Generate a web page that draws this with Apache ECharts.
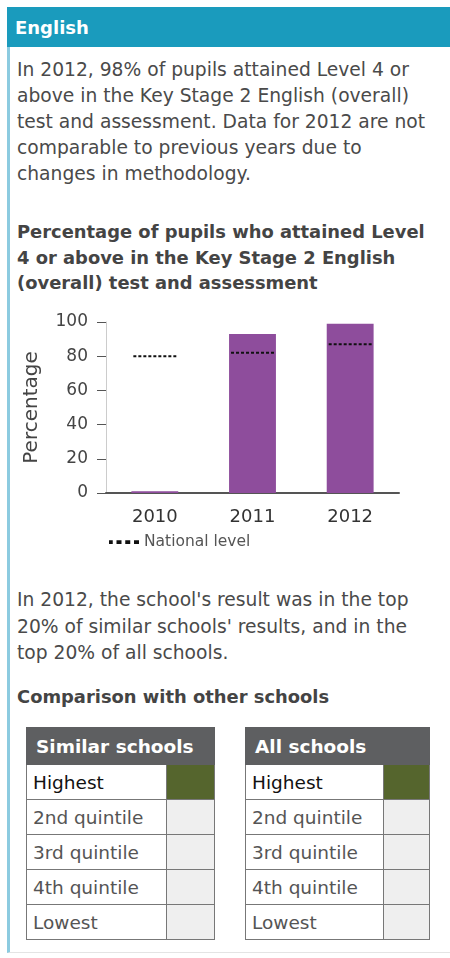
<!DOCTYPE html>
<html>
<head>
<meta charset="utf-8">
<script src="https://cdn.jsdelivr.net/npm/echarts@6/dist/echarts.min.js"></script>
<style>
  html, body { margin: 0; padding: 0; background: #fff; }
  body { width: 450px; height: 958px; position: relative; overflow: hidden;
         font-family: "DejaVu Sans", sans-serif; color: #444; }
  .frame { position: absolute; left: 7px; top: 7px; width: 443px; height: 946px;
           border-left: 3px solid #8ccbe0; border-bottom: 1px solid #e4e4e4; box-sizing: border-box; }
  .head { position: absolute; left: 7px; top: 7px; width: 443px; height: 40px; background: #1a9bbd;
          color: #fff; font-weight: bold; font-size: 18px; line-height: 41px;
          padding-left: 8px; box-sizing: border-box; }
  .txt { position: absolute; left: 17px; font-size: 18.7px; color: #4a4a4a; white-space: nowrap; }
  .bold { font-weight: bold; font-size: 17.9px; color: #444; }
  #chart { position: absolute; left: 0; top: 300px; width: 450px; height: 250px; }
  table.cmp { position: absolute; top: 727px; border-collapse: collapse; font-size: 18.5px; }
  table.cmp th { background: #5e5f61; color: #fff; text-align: left; font-weight: bold;
                 height: 36px; padding: 0 0 0 9px; border: 1.5px solid #5e5f61; white-space: nowrap; }
  table.cmp td { height: 34px; border: 1.5px solid #777; padding: 0 0 0 6px; color: #555; white-space: nowrap; }
  table.cmp td.c { background: #efefef; padding: 0; }
  table.cmp td.on { background: #55652d; }
  table.cmp tr.first td.l { color: #111; }
</style>
</head>
<body>
<div class="frame"></div>
<div class="head">English</div>
<div class="txt" style="top:57px; line-height:26px;">In 2012, 98% of pupils attained Level 4 or<br>above in the Key Stage 2 English (overall)<br>test and assessment. Data for 2012 are not<br>comparable to previous years due to<br>changes in methodology.</div>
<div class="txt bold" style="top:219px; line-height:25.5px;">Percentage of pupils who attained Level<br>4 or above in the Key Stage 2 English<br>(overall) test and assessment</div>
<div id="chart"></div>
<div class="txt" style="top:587px; line-height:26.5px;">In 2012, the school's result was in the top<br>20% of similar schools' results, and in the<br>top 20% of all schools.</div>
<div class="txt bold" style="top:684px; line-height:26px;">Comparison with other schools</div>
<div id="tables"></div>
<script>
var years = ['2010', '2011', '2012'];
var schoolPct = [1, 93, 99];
var nationalPct = [80, 82, 87];
var quintiles = ['Highest', '2nd quintile', '3rd quintile', '4th quintile', 'Lowest'];
var similarBand = 0; // index of highlighted quintile
var allBand = 0;

function buildTable(title, band, left, w1, w2) {
  var h = '<table class="cmp" style="left:' + left + 'px;width:' + (w1 + w2) + 'px">';
  h += '<tr><th colspan="2">' + title + '</th></tr>';
  quintiles.forEach(function (q, i) {
    h += '<tr' + (i === 0 ? ' class="first"' : '') + '><td class="l" style="width:' + (w1 - 6) + 'px">' + q +
         '</td><td class="c' + (i === band ? ' on' : '') + '" style="width:' + w2 + 'px"></td></tr>';
  });
  return h + '</table>';
}
document.getElementById('tables').innerHTML =
  buildTable('Similar schools', similarBand, 26, 140, 49) +
  buildTable('All schools', allBand, 245, 138, 47);

var chart = echarts.init(document.getElementById('chart'));
chart.setOption({
  animation: false,
  textStyle: { fontFamily: 'DejaVu Sans, sans-serif' },
  grid: { left: 106, right: 51, top: 22, bottom: 57 },
  legend: {
    left: 104, top: 229, itemGap: 7, itemWidth: 30, itemHeight: 4,
    textStyle: { color: '#555', fontSize: 15.5 },
    data: [{ name: 'National level', icon: 'path://M0,0h3v3h-3z M6,0h4v3h-4z M13,0h4v3h-4z M20,0h4v3h-4z' }],
    itemStyle: { color: '#111' }
  },
  xAxis: {
    type: 'category',
    data: years,
    axisLine: { lineStyle: { color: '#555', width: 2 } },
    axisTick: { alignWithLabel: true, length: 5, lineStyle: { color: '#bbb' } },
    axisLabel: { color: '#333', fontSize: 18, margin: 15 }
  },
  yAxis: {
    type: 'value', min: 0, max: 100, interval: 20,
    name: 'Percentage', nameLocation: 'middle', nameGap: 64, nameRotate: 90,
    nameTextStyle: { color: '#444', fontSize: 20 },
    axisLine: { show: true, lineStyle: { color: '#ccc', width: 1 } },
    axisTick: { show: true, length: 9, lineStyle: { color: '#555' } },
    axisLabel: { color: '#444', fontSize: 17, margin: 18 },
    splitLine: { show: false }
  },
  series: [
    {
      name: 'School', type: 'bar', data: schoolPct, barWidth: '48%',
      itemStyle: { color: '#8e4d9c' }
    },
    {
      name: 'National level', type: 'custom', data: nationalPct, z: 5,
      itemStyle: { color: '#111' },
      renderItem: function (params, api) {
        var p = api.coord([api.value(0), api.value(1)]);
        var half = api.size([1, 0])[0] * 0.44 / 2;
        return {
          type: 'line', z2: 10,
          shape: { x1: p[0] - half, y1: p[1], x2: p[0] + half, y2: p[1] },
          style: { stroke: '#111', lineWidth: 2, lineDash: [3, 2] }
        };
      },
      encode: { x: 0, y: 1 }
    }
  ]
});
</script>
</body>
</html>
